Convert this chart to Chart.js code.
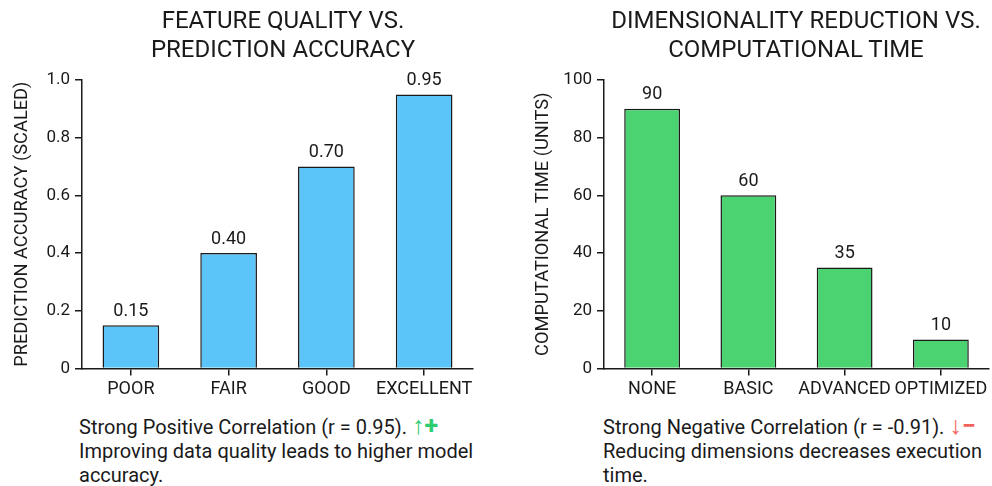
<!DOCTYPE html>
<html>
<head>
<meta charset="utf-8">
<script src="https://cdn.jsdelivr.net/npm/chart.js@4.4.0/dist/chart.umd.min.js"></script>
<style>
  body { margin: 0; background: #fff; font-family: Roboto, sans-serif; color: #1a1a1a; }
  #wrap { position: relative; width: 992px; height: 486px; }
  .panel { position: absolute; top: 0; width: 496px; height: 403px; }
  .title { position: absolute; top: 6px; width: 460px; text-align: center; font-size: 24px; line-height: 29px; color: #1a1a1a; }
  .note { position: absolute; top: 415px; font-size: 20px; line-height: 24px; color: #1a1a1a; }
  .up { color: #2ecc71; font-weight: bold; font-size: 25px; line-height: 20px; }
  .down { color: #f0625b; font-weight: bold; font-size: 25px; line-height: 20px; }
</style>
</head>
<body>
<div id="wrap">
  <div class="panel" style="left:0"><canvas id="chartLeft"></canvas></div>
  <div class="panel" style="left:496px"><canvas id="chartRight"></canvas></div>
  <div class="title" style="left:53px">FEATURE QUALITY VS.<br>PREDICTION ACCURACY</div>
  <div class="title" style="left:566px">DIMENSIONALITY REDUCTION VS.<br>COMPUTATIONAL TIME</div>
  <div class="note" style="left:79px; width:412px">Strong Positive Correlation (r = 0.95). <span class="up">↑+</span><br>Improving data quality leads to higher model accuracy.</div>
  <div class="note" style="left:603px; width:389px">Strong Negative Correlation (r = -0.91). <span class="down">↓−</span><br>Reducing dimensions decreases execution time.</div>
</div>
<script>
// 데이터
const qualityLabels = ["POOR", "FAIR", "GOOD", "EXCELLENT"];
const accuracyValues = [0.15, 0.40, 0.70, 0.95];
const reductionLabels = ["NONE", "BASIC", "ADVANCED", "OPTIMIZED"];
const timeValues = [90, 60, 35, 10];

Chart.defaults.font.family = "Roboto, sans-serif";
Chart.defaults.color = "#1a1a1a";

// 막대 위 값 표시
const valueLabels = {
    id: 'valueLabels',
    afterDatasetsDraw(chart, args, opts) {
        const ctx = chart.ctx;
        const meta = chart.getDatasetMeta(0);
        ctx.save();
        ctx.font = '18px Roboto, sans-serif';
        ctx.fillStyle = '#1a1a1a';
        ctx.textAlign = 'center';
        ctx.textBaseline = 'bottom';
        meta.data.forEach((bar, i) => {
            const v = chart.data.datasets[0].data[i];
            ctx.fillText(opts.fmt(v), bar.x, bar.y - 5);
        });
        ctx.restore();
    }
};

function makeConfig(labels, values, color, yTitle, yMax, step, fmt, axisWidth, titleShift, padRight) {
    return {
        type: 'bar',
        data: {
            labels: labels,
            datasets: [{
                data: values,
                backgroundColor: color,
                borderColor: '#1a1a1a',
                borderWidth: 1.5,
                categoryPercentage: 1,
                barPercentage: 0.58
            }]
        },
        options: {
            responsive: false,
            animation: false,
            layout: { padding: { top: 80, right: padRight, bottom: 0, left: 0 } },
            scales: {
                y: {
                    min: 0,
                    max: yMax,
                    ticks: { stepSize: step, font: { size: 17 }, color: '#1a1a1a', padding: 5 },
                    grid: { drawOnChartArea: false, tickLength: 7, color: '#1a1a1a', lineWidth: 1.5 },
                    border: { color: '#1a1a1a', width: 1.5 },
                    title: { display: true, text: yTitle, font: { size: 18.3 }, color: '#1a1a1a',
                             padding: { top: titleShift, bottom: 0 } },
                    afterFit(scale) { scale.width = axisWidth; }
                },
                x: {
                    ticks: { font: { size: 18 }, color: '#1a1a1a', padding: 3, maxRotation: 0, autoSkip: false },
                    grid: { offset: false, drawOnChartArea: false, tickLength: 7, color: '#1a1a1a', lineWidth: 1.5 },
                    border: { color: '#1a1a1a', width: 1.5 }
                }
            },
            plugins: {
                legend: { display: false },
                tooltip: { enabled: false },
                valueLabels: { fmt: fmt }
            }
        },
        plugins: [valueLabels]
    };
}

function drawCharts() {
    const c1 = document.getElementById('chartLeft');
    c1.width = 496; c1.height = 403;
    new Chart(c1.getContext('2d'), makeConfig(qualityLabels, accuracyValues, '#5bc4f8',
        'PREDICTION ACCURACY (SCALED)', 1, 0.2, v => v.toFixed(2), 82, 11, 23));

    const c2 = document.getElementById('chartRight');
    c2.width = 496; c2.height = 403;
    new Chart(c2.getContext('2d'), makeConfig(reductionLabels, timeValues, '#4bd271',
        'COMPUTATIONAL TIME (UNITS)', 100, 20, v => String(v), 108, 36, 3));
}

drawCharts();
</script>
</body>
</html>
